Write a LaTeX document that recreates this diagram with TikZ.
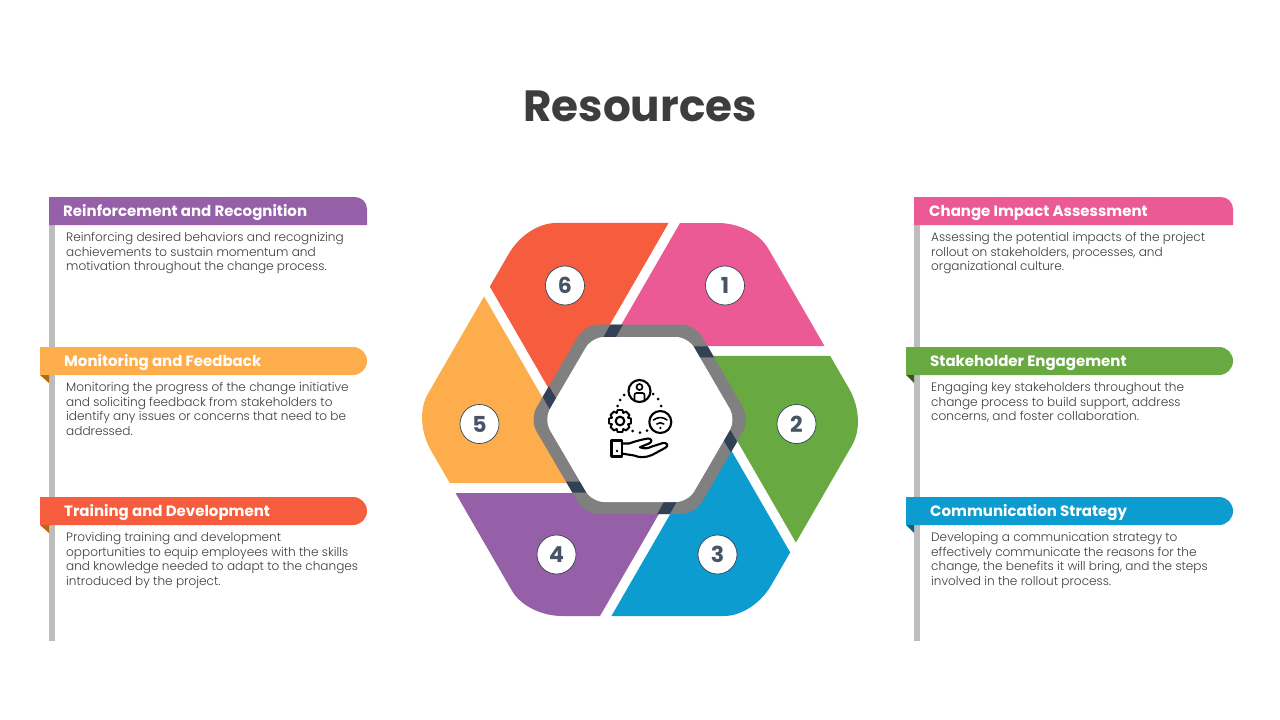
\documentclass[tikz,border=0pt]{standalone}
\usepackage{fontspec}
\setmainfont{Poppins}
\newfontfamily\headf[FakeStretch=1.0]{Poppins Bold}
\newfontfamily\numf{Poppins Bold}
\newfontfamily\bodyf[FakeStretch=0.99]{Poppins Light}
\newfontfamily\titlef{Poppins Bold}
\definecolor{cpink}{HTML}{EC5A96}
\definecolor{cgreen}{HTML}{69A942}
\definecolor{cblue}{HTML}{0C9CD0}
\definecolor{cpurple}{HTML}{9660A8}
\definecolor{cyellow}{HTML}{FDAD4C}
\definecolor{cred}{HTML}{F55D3E}
\definecolor{cnavy}{HTML}{334155}
\definecolor{cring}{HTML}{808080}
\definecolor{cstem}{HTML}{BDBDBD}
\definecolor{ctext}{HTML}{3D3D3D}
\definecolor{cbrown}{HTML}{B4690E}
\definecolor{cdkgreen}{HTML}{345A20}
\definecolor{cdkblue}{HTML}{0A5F85}
\tikzset{
 head/.style={anchor=base west,inner sep=0pt,text=white,font=\headf\fontsize{15}{15}\selectfont},
 body/.style={anchor=north west,inner sep=0pt,align=left,text=ctext,font=\bodyf\fontsize{12.2}{14.5}\selectfont},
 num/.style={circle,draw=cnavy,line width=.7pt,fill=white,minimum size=39pt,inner sep=0pt,text=cnavy!90,font=\numf\fontsize{22}{22}\selectfont},
 ico/.style={line width=2.1pt,black,line cap=round,line join=round},
 dotp/.style={black},
}
\begin{document}
\begin{tikzpicture}[x=1pt,y=-1pt]
\useasboundingbox (0,0) rectangle (1280,720);
\node[inner sep=0pt,text=ctext,font=\titlef\fontsize{43.7}{44}\selectfont] (title) at (640,106) {Resources};
% petals
\foreach \c [count=\i from 0] in {cpink,cgreen,cblue,cpurple,cyellow,cred}{
 \fill[\c,shift={(640,419.5)},rotate=-60*\i] (40,-196.5) -- (78,-196.5) .. controls (98,-196.5) and (119.2,-186.6) .. (128.2,-171) -- (184.5,-73.5) -- (-31,-73.5) -- cycle;
}
% ring
\fill[cring,rounded corners=14pt] (529.5,419.5) -- (585,324.5) -- (695,324.5) -- (750,419.5) -- (695,514) -- (585,514) -- cycle;
\begin{scope}
\clip[rounded corners=14pt] (529.5,419.5) -- (585,324.5) -- (695,324.5) -- (750,419.5) -- (695,514) -- (585,514) -- cycle;
\foreach \i in {0,...,5}{
 \fill[cnavy,shift={(640,419.5)},rotate=-60*\i] (40,-196.5) -- (29,-196.5) -- (-60,-42) -- (-29,-73.5) -- cycle;
}
\end{scope}
\fill[white,rounded corners=12pt] (543.7,419.5) -- (592,337) -- (688,337) -- (736,419.5) -- (688,502) -- (592,502) -- cycle;
% numbers
\node[num] (n1) at (725,285.5) {1};
\node[num] (n2) at (796.5,424) {2};
\node[num] (n3) at (717.5,554.5) {3};
\node[num] (n4) at (556.5,554.5) {4};
\node[num] (n5) at (479.5,424) {5};
\node[num] (n6) at (565,285.5) {6};
% icon
\draw[ico] (639.5,391) circle (11);
\draw[ico,line width=1.7pt] (639.5,387) circle (3);
\draw[ico,line width=1.7pt,rounded corners=2pt] (634.5,400.5) -- (634.5,393) -- (644.5,393) -- (644.5,400.5);
\draw[ico] (660.3,422) circle (11);
\draw[ico,line width=1.6pt] (653.5,420) arc (130:50:10.5 and -10.5);
\draw[ico,line width=1.6pt] (656.8,424) arc (130:50:5.4 and -5.4);
\fill (660.3,428) circle (1.2);
\begin{scope}[shift={(620,421)}]
\draw[ico,line width=1.9pt] (11,-2.4) foreach \a in {0,45,...,315}{ -- ([rotate=-\a]11,2.4) -- ([rotate=-\a]8,3.3) -- ([rotate=-\a-45]8,-3.3) -- ([rotate=-\a-45]11,-2.4)} -- cycle;
\draw[ico] (0,0) circle (4.3);
\end{scope}
\foreach \x/\y in {624/395,620/400,617.7/406,653/394,658/399,661/406,632.7/431,640/432.7,647/430.7}{\fill[dotp] (\x,\y) circle (1.5);}
\draw[ico] (611.5,440.5) rectangle (621.7,456.5);
\fill (617,451) circle (1.3);
\draw[ico] (621.7,443.5) -- (629,443.5) .. controls (636,441) and (642,439.5) .. (648,438.5) .. controls (652,438.5) and (652.5,442) .. (649,443.5) -- (640,447.2);
\draw[ico] (640,447.2) .. controls (644,449) and (648,448.5) .. (652,446.5) -- (663,443) .. controls (667.5,442.5) and (669,446) .. (665,448) -- (652,455) .. controls (646,457.5) and (640,458) .. (634,455.5) -- (621.7,453.5);
% left panels
\fill[cstem] (49,225) rectangle (55,641);
\fill[cpurple] (49,225) -- (49,197) -- (355,197) arc (90:0:12 and -12) -- (367,225) -- cycle;
\fill[cyellow] (40,375) -- (40,347) -- (353,347) arc (90:-90:14 and -14) -- cycle;
\fill[cred] (40,525) -- (40,497) -- (353,497) arc (90:-90:14 and -14) -- cycle;
\fill[cbrown] (40,375) -- (49,375) -- (49,383) -- cycle;
\fill[cbrown] (40,525) -- (49,525) -- (49,533) -- cycle;
\node[head] (h6) at (63,216) {Reinforcement and Recognition};
\node[head] (h5) at (64,366) {Monitoring and Feedback};
\node[head] (h4) at (64,516) {Training and Development};
\node[body] (b6) at (66,232.5) {Reinforcing desired behaviors and recognizing\\achievements to sustain momentum and\\motivation throughout the change process.};
\node[body] (b5) at (66,382.5) {Monitoring the progress of the change initiative\\and soliciting feedback from stakeholders to\\identify any issues or concerns that need to be\\addressed.};
\node[body] (b4) at (66,532.5) {Providing training and development\\opportunities to equip employees with the skills\\and knowledge needed to adapt to the changes\\introduced by the project.};
% right panels
\fill[cstem] (914,225) rectangle (920,641);
\fill[cpink] (914,225) -- (914,197) -- (1221,197) arc (90:0:12 and -12) -- (1233,225) -- cycle;
\fill[cgreen] (906,375) -- (906,347) -- (1219,347) arc (90:-90:14 and -14) -- cycle;
\fill[cblue] (906,525) -- (906,497) -- (1219,497) arc (90:-90:14 and -14) -- cycle;
\fill[cdkgreen] (906,375) -- (914,375) -- (914,383) -- cycle;
\fill[cdkblue] (906,525) -- (914,525) -- (914,533) -- cycle;
\node[head] (h1) at (929,216) {Change Impact Assessment};
\node[head] (h2) at (930,366) {Stakeholder Engagement};
\node[head] (h3) at (930,516) {Communication Strategy};
\node[body] (b1) at (931,232.5) {Assessing the potential impacts of the project\\rollout on stakeholders, processes, and\\organizational culture.};
\node[body] (b2) at (931,382.5) {Engaging key stakeholders throughout the\\change process to build support, address\\concerns, and foster collaboration.};
\node[body] (b3) at (931,532.5) {Developing a communication strategy to\\effectively communicate the reasons for the\\change, the benefits it will bring, and the steps\\involved in the rollout process.};
\end{tikzpicture}
\end{document}
